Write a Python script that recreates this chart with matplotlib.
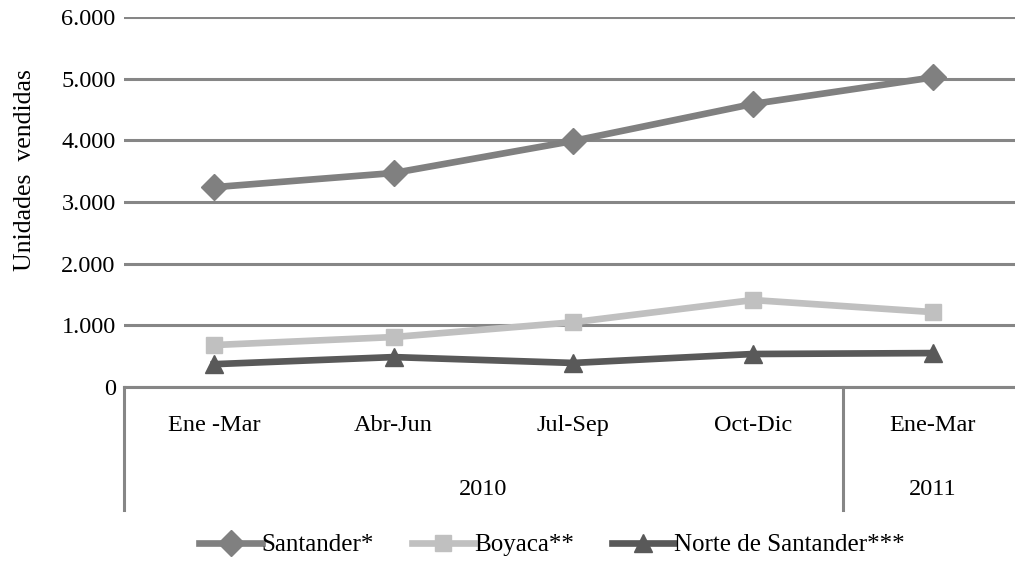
import numpy as np
import matplotlib
matplotlib.use('Agg')
import matplotlib.pyplot as plt
import matplotlib.transforms as mtransforms

plt.rcParams['font.family'] = ['Liberation Serif', 'DejaVu Serif']

# data
periods = ['Ene -Mar', 'Abr-Jun', 'Jul-Sep', 'Oct-Dic', 'Ene-Mar']
years = ['2010', '2011']
year_span = [(0, 3), (4, 4)]   # first and last period index per year
santander = [3240, 3470, 3990, 4590, 5020]
boyaca = [680, 810, 1050, 1410, 1215]
norte = [370, 485, 390, 535, 550]
series_names = ['Santander*', 'Boyaca**', 'Norte de Santander***']

FS = 17.5
W, H = 1015, 569
fig = plt.figure(figsize=(W / 100, H / 100), dpi=100)
ax = fig.add_axes([124 / W, (H - 387) / H, 898.5 / W, 370 / H])

x = np.arange(len(periods))
ax.plot(x, santander, color='#808080', lw=4.8, marker='D', ms=13, label=series_names[0], zorder=3)
ax.plot(x, boyaca, color='#c0c0c0', lw=4.8, marker='s', ms=12, label=series_names[1], zorder=3)
ax.plot(x, norte, color='#595959', lw=4.8, marker='^', ms=13, label=series_names[2], zorder=3)

ax.set_xlim(-0.5, len(periods) - 0.5)
ax.set_ylim(0, 6000)
ax.set_yticks(np.arange(0, 6001, 1000))
ax.set_yticklabels([f'{int(v):,}'.replace(',', '.') for v in ax.get_yticks()], fontsize=FS)
ax.tick_params(axis='y', length=0, pad=6)
ax.set_xticks([])
ax.grid(axis='y', color='#868686', lw=2.2)
ax.set_axisbelow(True)
for s in ['top', 'right', 'left']:
    ax.spines[s].set_visible(False)
ax.spines['bottom'].set_color('#868686')
ax.spines['bottom'].set_linewidth(2.2)

# multi-level category axis
trans = mtransforms.blended_transform_factory(ax.transData, ax.transAxes)
for i, p in enumerate(periods):
    ax.text(i, -0.103, p, transform=trans, ha='center', va='center', fontsize=FS)
for yr, (a, b) in zip(years, year_span):
    ax.text((a + b) / 2, -0.276, yr, transform=trans, ha='center', va='center', fontsize=FS)
    ax.plot([a - 0.5, a - 0.5], [0, -0.332], transform=trans, color='#868686', lw=2.2, clip_on=False)

fig.text(25 / W, 1 - 170 / H, 'Unidades  vendidas', rotation=90, ha='center', va='center', fontsize=FS + 1)

fig.legend(loc='center', bbox_to_anchor=(552 / W, 1 - 545 / H), ncol=3, frameon=False,
           fontsize=FS + 0.5, handlelength=2.5, handletextpad=0.0, columnspacing=1.5)

fig.savefig('out.png', dpi=100)
